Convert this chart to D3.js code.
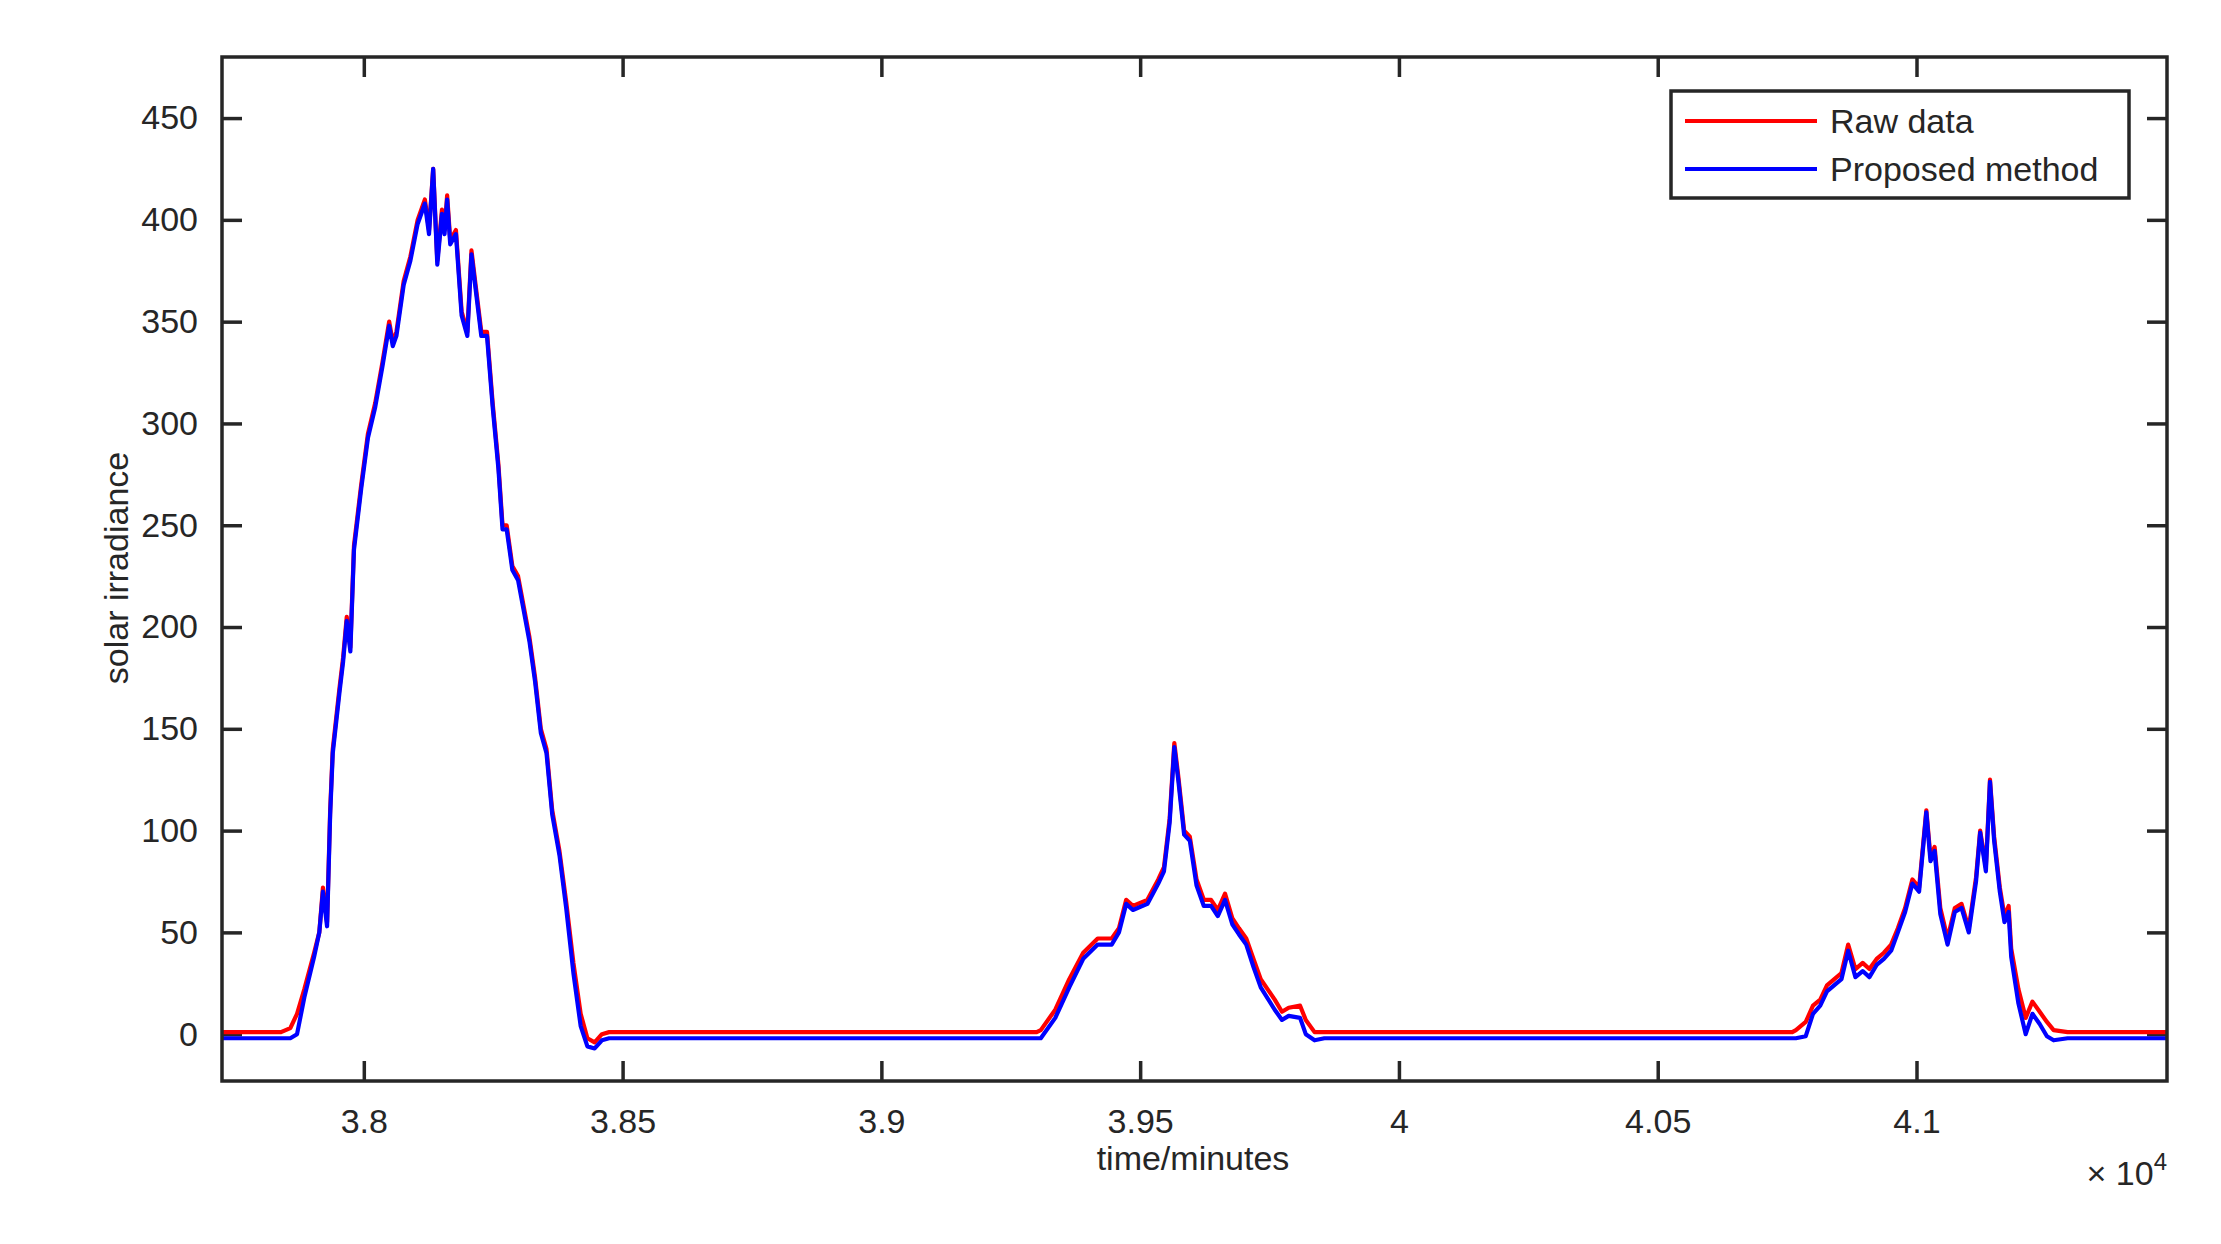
<!DOCTYPE html>
<html>
<head>
<meta charset="utf-8">
<script src="https://cdn.jsdelivr.net/npm/d3@7"></script>
<style>
  body { margin: 0; background: #fff; }
  text { font-family: "Liberation Sans", Arial, sans-serif; fill: #262626; }
</style>
</head>
<body>
<svg id="chart" width="2221" height="1244"></svg>
<script>
// time in minutes
const times = [37726, 37840, 37858, 37871, 37885, 37904, 37914, 37921, 37929, 37935, 37940, 37953, 37960, 37967, 37974, 37981, 37995, 38008, 38022, 38036, 38049, 38056, 38063, 38077, 38090, 38104, 38118, 38126, 38134, 38142, 38151, 38156, 38161, 38167, 38178, 38189, 38200, 38208, 38216, 38227, 38238, 38249, 38260, 38268, 38276, 38287, 38298, 38309, 38320, 38331, 38342, 38353, 38364, 38378, 38391, 38405, 38419, 38432, 38446, 38460, 38474,
  39300, 39308, 39336, 39363, 39390, 39418, 39445, 39459, 39473, 39486, 39514, 39535, 39546, 39557, 39566, 39574, 39585, 39596, 39609, 39623, 39637, 39650, 39664, 39678, 39691, 39705, 39719, 39733, 39760, 39774, 39787, 39809, 39820, 39837, 39856,
  40760, 40767, 40786, 40800, 40814, 40827, 40855, 40868, 40882, 40896, 40909, 40923, 40937, 40951, 40964, 40978, 40992, 41005, 41019, 41027, 41035, 41046, 41060, 41074, 41087, 41101, 41115, 41123, 41134, 41142, 41150, 41161, 41170, 41178, 41183, 41197, 41211, 41224, 41238, 41252, 41265, 41292, 41484];

const rawData = [1, 1, 3, 10, 22, 40, 50, 72, 55, 110, 140, 170, 185, 205, 190, 240, 270, 295, 310, 330, 350, 340, 345, 370, 382, 400, 410, 395, 425, 380, 405, 395, 412, 390, 395, 355, 345, 385, 368, 345, 345, 310, 280, 250, 250, 230, 225, 210, 195, 175, 150, 140, 110, 90, 65, 35, 10, -2, -4, 0, 1,
  1, 2, 12, 27, 40, 47, 47, 52, 66, 63, 66, 76, 82, 106, 143, 126, 100, 97, 76, 66, 66, 61, 69, 57, 52, 47, 37, 27, 17, 11, 13, 14, 7, 1, 1,
  1, 2, 6, 14, 17, 24, 30, 44, 32, 35, 32, 37, 40, 44, 52, 62, 76, 72, 110, 87, 92, 62, 47, 62, 64, 52, 77, 100, 82, 125, 97, 72, 58, 63, 42, 22, 8, 16, 11, 6, 2, 1, 1];

const proposedData = [-2, -2, -2, 0, 18, 38, 50, 70, 53, 108, 138, 168, 183, 203, 188, 238, 268, 293, 308, 328, 348, 338, 343, 368, 380, 398, 408, 393, 425, 378, 403, 393, 410, 388, 393, 353, 343, 383, 366, 343, 343, 308, 278, 248, 248, 228, 223, 208, 193, 173, 148, 138, 108, 88, 62, 30, 4, -6, -7, -3, -2,
  -2, -2, 8, 23, 37, 44, 44, 50, 64, 61, 64, 74, 80, 104, 141, 124, 98, 95, 73, 63, 63, 58, 66, 54, 49, 44, 33, 23, 12, 7, 9, 8, 0, -3, -2,
  -2, -2, -1, 10, 14, 21, 27, 41, 28, 31, 28, 34, 37, 41, 50, 60, 74, 70, 109, 85, 90, 59, 44, 60, 62, 50, 75, 99, 80, 124, 95, 70, 55, 60, 38, 15, 0, 10, 5, -1, -3, -2, -2];

const xTicks = [38000, 38500, 39000, 39500, 40000, 40500, 41000];
const xTickLabels = ["3.8", "3.85", "3.9", "3.95", "4", "4.05", "4.1"];
const yTicks = [0, 50, 100, 150, 200, 250, 300, 350, 400, 450];
const seriesNames = ["Raw data", "Proposed method"];
const seriesColors = ["#ff0000", "#0000ff"];

const svg = d3.select("#chart");
const plotL = 222, plotR = 2167, plotT = 57, plotB = 1081;

const x = d3.scaleLinear().domain([37726, 41484]).range([plotL, plotR]);
const y = d3.scaleLinear().domain([-23, 480]).range([plotB, plotT]);

const tickLen = 20;
const fontSize = 34;

// axes with inward ticks on all four sides
const axisBottom = d3.axisBottom(x).tickValues(xTicks)
  .tickFormat((d, i) => xTickLabels[i]).tickSizeInner(-tickLen).tickSizeOuter(0).tickPadding(tickLen + 8);
const axisTop = d3.axisTop(x).tickValues(xTicks).tickFormat("").tickSizeInner(-tickLen).tickSizeOuter(0);
const axisLeft = d3.axisLeft(y).tickValues(yTicks).tickSizeInner(-tickLen).tickSizeOuter(0).tickPadding(tickLen + 4);
const axisRight = d3.axisRight(y).tickValues(yTicks).tickFormat("").tickSizeInner(-tickLen).tickSizeOuter(0);

function styleAxis(g) {
  g.select(".domain").remove();
  g.selectAll(".tick line").attr("stroke", "#262626").attr("stroke-width", 3.5);
  g.selectAll(".tick text").attr("font-size", fontSize).attr("fill", "#262626")
    .style("font-family", "'Liberation Sans', Arial, sans-serif");
}

svg.append("g").attr("transform", `translate(0,${plotB})`).call(axisBottom).call(styleAxis);
svg.append("g").attr("transform", `translate(0,${plotT})`).call(axisTop).call(styleAxis);
svg.append("g").attr("transform", `translate(${plotL},0)`).call(axisLeft).call(styleAxis);
svg.append("g").attr("transform", `translate(${plotR},0)`).call(axisRight).call(styleAxis);

// clip the lines to the plot box
svg.append("clipPath").attr("id", "plotClip").append("rect")
  .attr("x", plotL).attr("y", plotT).attr("width", plotR - plotL).attr("height", plotB - plotT);

const line = d3.line().x(d => x(d[0])).y(d => y(d[1]));
[rawData, proposedData].forEach((vals, k) => {
  svg.append("path")
    .datum(times.map((t, i) => [t, vals[i]]))
    .attr("clip-path", "url(#plotClip)")
    .attr("fill", "none")
    .attr("stroke", seriesColors[k])
    .attr("stroke-width", 4.2)
    .attr("stroke-linejoin", "round")
    .attr("d", line);
});

// plot frame
svg.append("rect").attr("x", plotL).attr("y", plotT).attr("width", plotR - plotL).attr("height", plotB - plotT)
  .attr("fill", "none").attr("stroke", "#262626").attr("stroke-width", 3.5);

// legend
const lg = svg.append("g").attr("transform", "translate(1671,91)");
lg.append("rect").attr("width", 458).attr("height", 107).attr("fill", "#fff")
  .attr("stroke", "#262626").attr("stroke-width", 3.5);
seriesNames.forEach((name, i) => {
  const yy = 30 + i * 48;
  lg.append("line").attr("x1", 14).attr("x2", 146).attr("y1", yy).attr("y2", yy)
    .attr("stroke", seriesColors[i]).attr("stroke-width", 4.2);
  lg.append("text").attr("x", 159).attr("y", yy + 12).attr("font-size", fontSize).text(name);
});

// axis labels
svg.append("text").attr("x", 1193).attr("y", 1170).attr("text-anchor", "middle")
  .attr("font-size", fontSize).text("time/minutes");
svg.append("text").attr("transform", "translate(128,568) rotate(-90)")
  .attr("text-anchor", "middle").attr("font-size", fontSize).text("solar irradiance");

// exponent label
const ex = svg.append("text").attr("x", plotR).attr("y", 1185).attr("text-anchor", "end").attr("font-size", fontSize);
ex.append("tspan").text("× 10");
ex.append("tspan").attr("dy", -15).attr("font-size", 24).text("4");
</script>
</body>
</html>
